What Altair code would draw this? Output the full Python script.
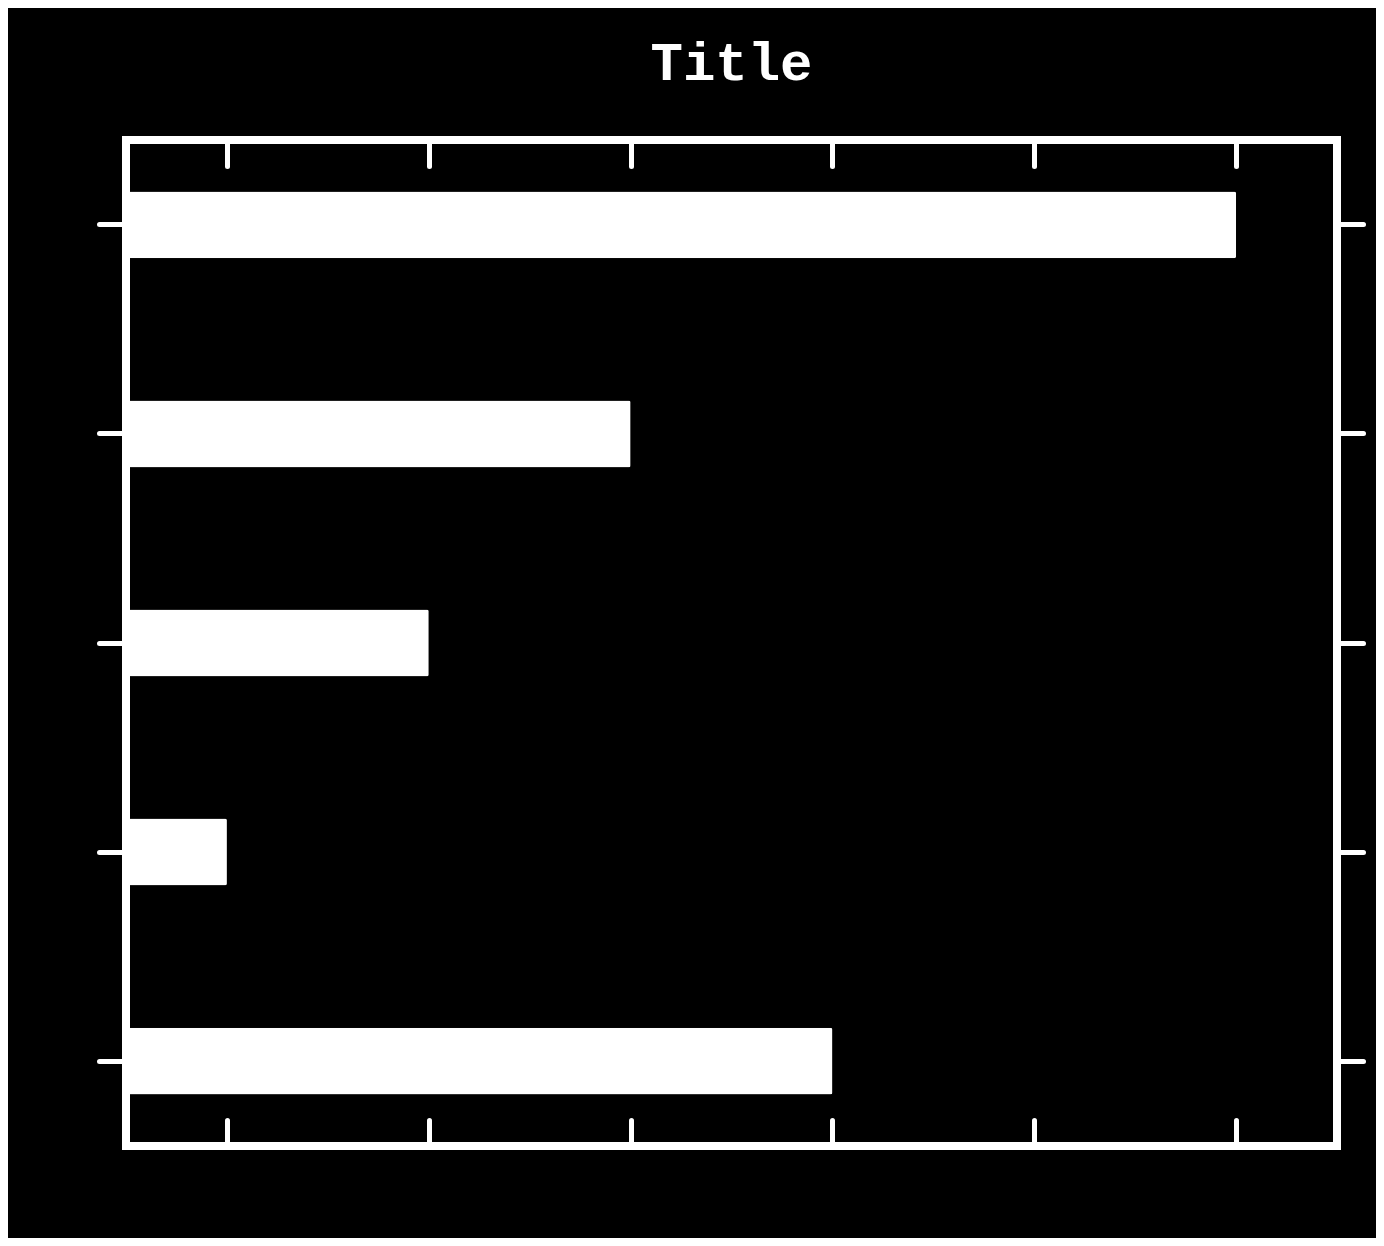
import altair as alt
import pandas as pd

categories = ["A", "B", "C", "D", "E"]
values = [11, 5, 3, 1, 7]
x_ticks = [1, 3, 5, 7, 9, 11]

df = pd.DataFrame({"cat": categories, "val": values})

xscale = alt.Scale(domain=[0, 12], nice=False, zero=False)
yscale = alt.Scale(domain=categories, paddingInner=0.68, paddingOuter=0.246)

tick_common = dict(labels=False, domain=False, grid=False, title=None,
                   tickColor="white", tickWidth=5, tickCap="round")

bars = alt.Chart(df).mark_bar(color="white", cornerRadius=2).encode(
    x=alt.X("val:Q", scale=xscale,
            axis=alt.Axis(orient="bottom", values=x_ticks, tickSize=26, offset=-26, **tick_common)),
    y=alt.Y("cat:N", scale=yscale,
            axis=alt.Axis(orient="left", tickSize=27, **tick_common)),
)

ghost = alt.Chart(df).mark_bar(opacity=0).encode(
    x=alt.X("val:Q", scale=xscale,
            axis=alt.Axis(orient="top", values=x_ticks, tickSize=26, offset=-26, **tick_common)),
    y=alt.Y("cat:N", scale=yscale,
            axis=alt.Axis(orient="right", tickSize=26, **tick_common)),
)

chart = alt.layer(bars, ghost).resolve_axis(x="independent", y="independent").properties(
    width=1211,
    height=1006,
    background="black",
    autosize=alt.AutoSizeParams(type="none"),
    padding={"left": 118, "top": 132, "right": 39, "bottom": 92},
    title=alt.TitleParams(text="Title", font="Liberation Mono", fontSize=54, fontWeight="bold",
                          color="white", anchor="middle", baseline="alphabetic", offset=4),
).configure_view(stroke="white", strokeWidth=8, fill="black")

chart.save("out.html", embed_options={"renderer": "svg", "actions": False})
